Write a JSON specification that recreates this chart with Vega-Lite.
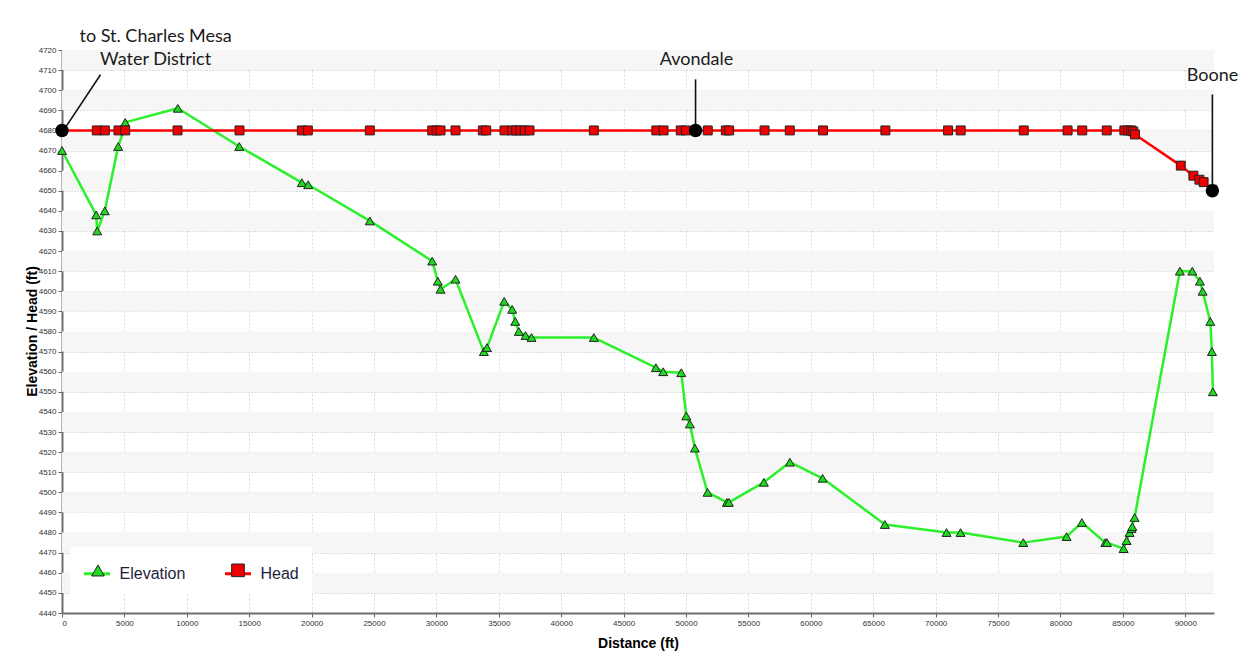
{
  "$schema": "https://vega.github.io/schema/vega-lite/v6.json",
  "autosize": {"type": "none"},
  "width": 1152,
  "height": 563,
  "padding": {"left": 62, "top": 50, "right": 45, "bottom": 46},
  "background": "white",
  "config": {
    "view": {"stroke": null},
    "axis": {
      "labelFont": "Liberation Sans Narrow, Liberation Sans",
      "labelFontSize": 8,
      "labelColor": "#333",
      "labelPadding": 2,
      "tickColor": "#666",
      "tickSize": 4,
      "domainColor": "#6e6e6e",
      "domainWidth": 2,
      "titleFont": "Liberation Sans",
      "titleFontSize": 14,
      "titleFontWeight": "bold",
      "titleColor": "#000",
      "grid": true
    },
    "axisX": {"gridColor": "#d9d9d9", "gridDash": [2, 2]},
    "axisY": {"gridColor": "#bdbdbd", "gridDash": [1, 2]}
  },
  "datasets": {
    "bands": [
      {"lo": 4450, "hi": 4460}, {"lo": 4470, "hi": 4480}, {"lo": 4490, "hi": 4500},
      {"lo": 4510, "hi": 4520}, {"lo": 4530, "hi": 4540}, {"lo": 4550, "hi": 4560},
      {"lo": 4570, "hi": 4580}, {"lo": 4590, "hi": 4600}, {"lo": 4610, "hi": 4620},
      {"lo": 4630, "hi": 4640}, {"lo": 4650, "hi": 4660}, {"lo": 4670, "hi": 4680},
      {"lo": 4690, "hi": 4700}, {"lo": 4710, "hi": 4720}
    ],
    "profile": [
      {"series": "Elevation", "d": 0, "v": 4670},
      {"series": "Elevation", "d": 2740, "v": 4638},
      {"series": "Elevation", "d": 2820, "v": 4630},
      {"series": "Elevation", "d": 3430, "v": 4640},
      {"series": "Elevation", "d": 4500, "v": 4672},
      {"series": "Elevation", "d": 5010, "v": 4681},
      {"series": "Elevation", "d": 5064, "v": 4684},
      {"series": "Elevation", "d": 9280, "v": 4691},
      {"series": "Elevation", "d": 14200, "v": 4672},
      {"series": "Elevation", "d": 19215, "v": 4654},
      {"series": "Elevation", "d": 19730, "v": 4653},
      {"series": "Elevation", "d": 24663, "v": 4635},
      {"series": "Elevation", "d": 29663, "v": 4615},
      {"series": "Elevation", "d": 30113, "v": 4605},
      {"series": "Elevation", "d": 30329, "v": 4601},
      {"series": "Elevation", "d": 31530, "v": 4606},
      {"series": "Elevation", "d": 33800, "v": 4570},
      {"series": "Elevation", "d": 34050, "v": 4572},
      {"series": "Elevation", "d": 35430, "v": 4595},
      {"series": "Elevation", "d": 36070, "v": 4591},
      {"series": "Elevation", "d": 36314, "v": 4585},
      {"series": "Elevation", "d": 36603, "v": 4580},
      {"series": "Elevation", "d": 37140, "v": 4578},
      {"series": "Elevation", "d": 37620, "v": 4577},
      {"series": "Elevation", "d": 42612, "v": 4577},
      {"series": "Elevation", "d": 47580, "v": 4562},
      {"series": "Elevation", "d": 48170, "v": 4560},
      {"series": "Elevation", "d": 49615, "v": 4559.5},
      {"series": "Elevation", "d": 50016, "v": 4538},
      {"series": "Elevation", "d": 50305, "v": 4534},
      {"series": "Elevation", "d": 50706, "v": 4522},
      {"series": "Elevation", "d": 51723, "v": 4500},
      {"series": "Elevation", "d": 53270, "v": 4495},
      {"series": "Elevation", "d": 53430, "v": 4495},
      {"series": "Elevation", "d": 56234, "v": 4505},
      {"series": "Elevation", "d": 58318, "v": 4515},
      {"series": "Elevation", "d": 60938, "v": 4507},
      {"series": "Elevation", "d": 65930, "v": 4484},
      {"series": "Elevation", "d": 70873, "v": 4480},
      {"series": "Elevation", "d": 71995, "v": 4480},
      {"series": "Elevation", "d": 77020, "v": 4475},
      {"series": "Elevation", "d": 80489, "v": 4478},
      {"series": "Elevation", "d": 81715, "v": 4485},
      {"series": "Elevation", "d": 83590, "v": 4475},
      {"series": "Elevation", "d": 83720, "v": 4475},
      {"series": "Elevation", "d": 85058, "v": 4472},
      {"series": "Elevation", "d": 85298, "v": 4476},
      {"series": "Elevation", "d": 85537, "v": 4480},
      {"series": "Elevation", "d": 85697, "v": 4482},
      {"series": "Elevation", "d": 85753, "v": 4483},
      {"series": "Elevation", "d": 85938, "v": 4487.5},
      {"series": "Elevation", "d": 89567, "v": 4610},
      {"series": "Elevation", "d": 90560, "v": 4610},
      {"series": "Elevation", "d": 91170, "v": 4605},
      {"series": "Elevation", "d": 91386, "v": 4600},
      {"series": "Elevation", "d": 92003, "v": 4585},
      {"series": "Elevation", "d": 92130, "v": 4570},
      {"series": "Elevation", "d": 92210, "v": 4550},
      {"series": "Head", "d": 0, "v": 4680},
      {"series": "Head", "d": 2788, "v": 4680},
      {"series": "Head", "d": 3430, "v": 4680},
      {"series": "Head", "d": 4527, "v": 4680},
      {"series": "Head", "d": 5064, "v": 4680},
      {"series": "Head", "d": 9255, "v": 4680},
      {"series": "Head", "d": 14223, "v": 4680},
      {"series": "Head", "d": 19215, "v": 4680},
      {"series": "Head", "d": 19696, "v": 4680},
      {"series": "Head", "d": 24663, "v": 4680},
      {"series": "Head", "d": 29663, "v": 4680},
      {"series": "Head", "d": 30008, "v": 4680},
      {"series": "Head", "d": 30328, "v": 4680},
      {"series": "Head", "d": 31530, "v": 4680},
      {"series": "Head", "d": 33718, "v": 4680},
      {"series": "Head", "d": 33990, "v": 4680},
      {"series": "Head", "d": 35457, "v": 4680},
      {"series": "Head", "d": 36074, "v": 4680},
      {"series": "Head", "d": 36394, "v": 4680},
      {"series": "Head", "d": 36739, "v": 4680},
      {"series": "Head", "d": 37083, "v": 4680},
      {"series": "Head", "d": 37460, "v": 4680},
      {"series": "Head", "d": 42612, "v": 4680},
      {"series": "Head", "d": 47620, "v": 4680},
      {"series": "Head", "d": 48197, "v": 4680},
      {"series": "Head", "d": 49575, "v": 4680},
      {"series": "Head", "d": 49984, "v": 4680},
      {"series": "Head", "d": 50761, "v": 4680},
      {"series": "Head", "d": 51739, "v": 4680},
      {"series": "Head", "d": 53189, "v": 4680},
      {"series": "Head", "d": 53454, "v": 4680},
      {"series": "Head", "d": 56290, "v": 4680},
      {"series": "Head", "d": 58310, "v": 4680},
      {"series": "Head", "d": 60977, "v": 4680},
      {"series": "Head", "d": 65970, "v": 4680},
      {"series": "Head", "d": 70994, "v": 4680},
      {"series": "Head", "d": 72003, "v": 4680},
      {"series": "Head", "d": 77058, "v": 4680},
      {"series": "Head", "d": 80569, "v": 4680},
      {"series": "Head", "d": 81744, "v": 4680},
      {"series": "Head", "d": 83707, "v": 4680},
      {"series": "Head", "d": 85120, "v": 4680},
      {"series": "Head", "d": 85424, "v": 4680},
      {"series": "Head", "d": 85665, "v": 4680},
      {"series": "Head", "d": 85833, "v": 4679.5},
      {"series": "Head", "d": 85970, "v": 4678},
      {"series": "Head", "d": 89640, "v": 4662.5},
      {"series": "Head", "d": 90649, "v": 4657.5},
      {"series": "Head", "d": 91130, "v": 4655.5},
      {"series": "Head", "d": 91467, "v": 4654.3},
      {"series": "Head", "d": 92170, "v": 4650.5}
    ],
    "sites": [
      {"d": 0, "v": 4680},
      {"d": 50761, "v": 4680},
      {"d": 92170, "v": 4650}
    ],
    "leaders": [
      {"d": 336, "v": 4682, "d2": 3085, "v2": 4707.7},
      {"d": 50761, "v": 4680, "d2": 50761, "v2": 4705.4},
      {"d": 92170, "v": 4650, "d2": 92170, "v2": 4697.9}
    ],
    "labels": [
      {"label": "to St. Charles Mesa", "d": 7500, "v": 4726.7},
      {"label": "Water District", "d": 7500, "v": 4714.8},
      {"label": "Avondale", "d": 50841, "v": 4714.8},
      {"label": "Boone", "d": 92188, "v": 4706.9}
    ]
  },
  "encoding": {
    "x": {
      "field": "d", "type": "quantitative", "title": "Distance (ft)",
      "scale": {"domain": [0, 92300], "nice": false, "zero": false},
      "axis": {
        "title": "Distance (ft)",
        "values": [0, 5000, 10000, 15000, 20000, 25000, 30000, 35000, 40000, 45000, 50000, 55000, 60000, 65000, 70000, 75000, 80000, 85000, 90000],
        "format": "d",
        "titleY": 30,
        "titleBaseline": "middle"
      }
    },
    "y": {
      "field": "v", "type": "quantitative", "title": "Elevation / Head (ft)",
      "scale": {"domain": [4440, 4720], "nice": false, "zero": false},
      "axis": {
        "title": "Elevation / Head (ft)",
        "values": [4440, 4450, 4460, 4470, 4480, 4490, 4500, 4510, 4520, 4530, 4540, 4550, 4560, 4570, 4580, 4590, 4600, 4610, 4620, 4630, 4640, 4650, 4660, 4670, 4680, 4690, 4700, 4710, 4720],
        "format": "d",
        "titleX": -30,
        "titleY": 281,
        "titleAngle": -90,
        "titleAlign": "center",
        "titleBaseline": "middle"
      }
    }
  },
  "layer": [
    {
      "data": {"name": "bands"},
      "mark": {"type": "rect", "fill": "#f6f6f6"},
      "encoding": {
        "x": null,
        "y": {
          "field": "lo", "type": "quantitative", "title": "Elevation / Head (ft)",
          "scale": {"domain": [4440, 4720], "nice": false, "zero": false}
        },
        "y2": {"field": "hi"}
      }
    },
    {
      "data": {"name": "profile"},
      "mark": {"type": "line", "strokeWidth": 2.5, "strokeJoin": "round"},
      "encoding": {
        "stroke": {
          "field": "series", "type": "nominal",
          "scale": {"domain": ["Elevation", "Head"], "range": ["#2bf02b", "#ff0000"]},
          "legend": {
            "orient": "none", "legendX": 8.5, "legendY": 497,
            "direction": "horizontal", "title": null, "padding": 12,
            "fillColor": "#ffffff",
            "symbolType": "stroke", "symbolSize": 676, "symbolStrokeWidth": 3,
            "labelFont": "Liberation Sans", "labelFontSize": 16, "labelColor": "#1e1e3c",
            "labelOffset": 8, "columnPadding": 33
          }
        }
      }
    },
    {
      "data": {"name": "profile"},
      "mark": {"type": "point", "filled": true, "size": 80, "stroke": "#222", "strokeWidth": 1, "opacity": 1},
      "encoding": {
        "fill": {
          "field": "series", "type": "nominal",
          "scale": {"range": ["#1fd81f", "#ee0000"]},
          "legend": {
            "orient": "none", "legendX": 28, "legendY": 512,
            "direction": "horizontal", "title": null, "padding": 0,
            "symbolSize": 160, "symbolStrokeColor": "#222", "symbolStrokeWidth": 1,
            "labelFont": "Liberation Sans", "labelFontSize": 16, "labelExpr": "''",
            "labelOffset": 0, "columnPadding": 122
          }
        },
        "shape": {
          "field": "series", "type": "nominal",
          "scale": {"range": ["triangle-up", "square"]}
        }
      }
    },
    {
      "data": {"name": "leaders"},
      "mark": {"type": "rule", "color": "#111", "strokeWidth": 1.6},
      "encoding": {
        "x2": {"field": "d2"},
        "y2": {"field": "v2"}
      }
    },
    {
      "data": {"name": "sites"},
      "mark": {"type": "point", "shape": "circle", "filled": true, "size": 180, "color": "#000", "opacity": 1}
    },
    {
      "data": {"name": "labels"},
      "mark": {"type": "text", "font": "Lato", "fontSize": 18, "color": "#1a1a1a", "align": "center", "baseline": "middle"},
      "encoding": {
        "text": {"field": "label"}
      }
    }
  ]
}
